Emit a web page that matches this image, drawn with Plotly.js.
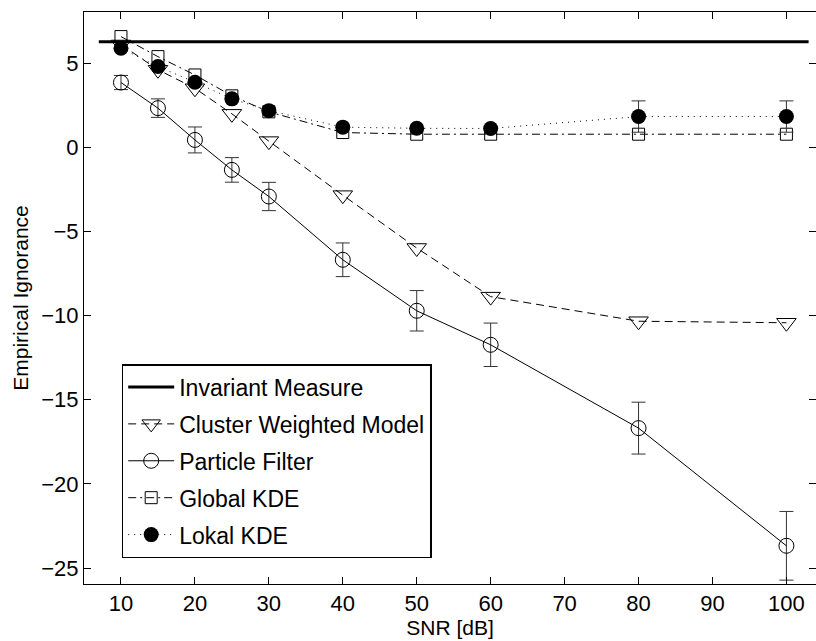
<!DOCTYPE html>
<html>
<head>
<meta charset="utf-8">
<script src="https://cdn.plot.ly/plotly-3.0.1.min.js"></script>
<style>html,body{margin:0;padding:0;background:#fff;}#chart{width:816px;height:641px;}</style>
</head>
<body>
<div id="chart"></div>
<script>
// SNR values [dB]
var snr = [10, 15, 20, 25, 30, 40, 50, 60, 80, 100];

// Invariant Measure (constant level)
var invariantX = [7, 103];
var invariantY = [6.27, 6.27];

// Cluster Weighted Model
var cwm = [6.1, 4.6, 3.5, 1.98, 0.36, -2.85, -5.99, -8.88, -10.34, -10.43];

// Particle Filter and its error bars
var pf = [3.84, 2.32, 0.43, -1.35, -2.93, -6.69, -9.72, -11.74, -16.69, -23.68];
var pfErr = [0.42, 0.55, 0.77, 0.73, 0.84, 1.0, 1.2, 1.29, 1.54, 2.04];

// Global KDE
var gkde = [6.57, 5.38, 4.29, 3.05, 2.1, 0.87, 0.77, 0.77, 0.77, 0.77];

// Lokal KDE and its error bars
var lkde = [5.88, 4.79, 3.86, 2.87, 2.17, 1.19, 1.12, 1.11, 1.82, 1.82];
var lkdeErr = [0, 0, 0, 0, 0, 0, 0, 0, 0.93, 0.93];

var names = ['Invariant Measure', 'Cluster Weighted Model', 'Particle Filter', 'Global KDE', 'Lokal KDE'];

var errStyle = {color: '#333', thickness: 1, width: 7};

var traces = [
  {
    x: invariantX, y: invariantY, name: names[0], legendgroup: 'g0',
    mode: 'lines', line: {color: '#000', width: 3}
  },
  {
    x: snr, y: cwm, name: names[1], legendgroup: 'g1',
    mode: 'lines+markers',
    line: {color: '#000', width: 1, dash: '8px,5px'},
    marker: {symbol: 'triangle-down-open', size: 17, color: '#000', line: {width: 1, color: '#000'}}
  },
  {
    x: snr, y: pf, name: names[2], legendgroup: 'g2',
    mode: 'lines+markers',
    line: {color: '#000', width: 1},
    marker: {symbol: 'circle-open', size: 15, color: '#000', line: {width: 1, color: '#000'}},
    error_y: Object.assign({type: 'data', array: pfErr, visible: true}, errStyle)
  },
  {
    x: snr, y: gkde, name: names[3], legendgroup: 'g3',
    mode: 'lines+markers',
    line: {color: '#000', width: 1, dash: '8px,4px,2px,4px'},
    marker: {symbol: 'square-open', size: 12, color: '#000', line: {width: 1, color: '#000'}}
  },
  {
    x: snr, y: lkde, name: names[4], legendgroup: 'g4',
    mode: 'lines+markers',
    line: {color: '#000', width: 1, dash: '1px,5px'},
    marker: {symbol: 'circle', size: 15, color: '#000', line: {width: 0}},
    error_y: Object.assign({type: 'data', array: lkdeErr, visible: true}, errStyle)
  }
];

var fontFam = '"Liberation Sans", Arial, Helvetica, sans-serif';

var layout = {
  width: 816, height: 641,
  margin: {l: 84, r: 0, t: 12, b: 57, pad: 0},
  paper_bgcolor: '#fff', plot_bgcolor: '#fff',
  font: {family: fontFam, color: '#000', size: 22},
  showlegend: true,
  legend: {
    x: 0.0515, y: 0.0454, xanchor: 'left', yanchor: 'bottom',
    bgcolor: '#fff', bordercolor: '#000', borderwidth: 1.5,
    font: {family: fontFam, size: 23, color: '#000'},
    traceorder: 'grouped', tracegroupgap: 4, itemwidth: 46
  },
  xaxis: {
    range: [5, 104],
    tickvals: [10, 20, 30, 40, 50, 60, 70, 80, 90, 100],
    ticks: 'inside', ticklen: 7, tickwidth: 1, tickcolor: '#000',
    showline: true, linecolor: '#000', linewidth: 1, mirror: 'ticks',
    showgrid: false, zeroline: false,
    tickfont: {family: fontFam, size: 22, color: '#000'},
    title: {text: 'SNR [dB]', font: {family: fontFam, size: 21, color: '#000'}, standoff: 2}
  },
  yaxis: {
    range: [-25.95, 8.03],
    tickvals: [-25, -20, -15, -10, -5, 0, 5],
    ticks: 'inside', ticklen: 7, tickwidth: 1, tickcolor: '#000',
    showline: true, linecolor: '#000', linewidth: 1, mirror: 'ticks',
    showgrid: false, zeroline: false,
    tickfont: {family: fontFam, size: 22, color: '#000'},
    title: {text: 'Empirical Ignorance', font: {family: fontFam, size: 21, color: '#000'}, standoff: 6}
  }
};

Plotly.newPlot('chart', traces, layout, {displayModeBar: false, staticPlot: true});
</script>
</body>
</html>
